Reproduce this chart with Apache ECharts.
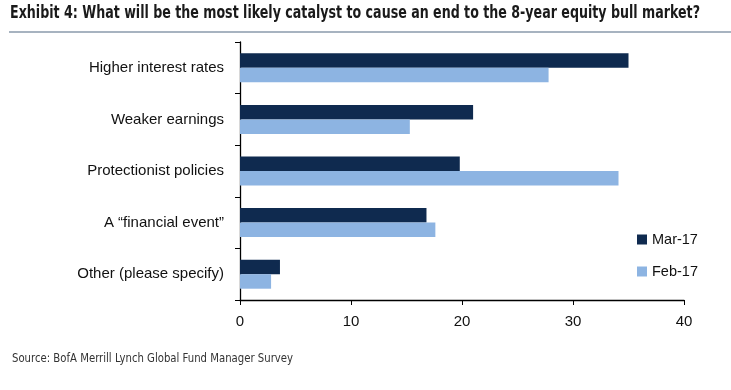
<!DOCTYPE html>
<html><head><meta charset="utf-8">
<script src="https://cdn.jsdelivr.net/npm/echarts@6/dist/echarts.min.js"></script>
<style>html,body{margin:0;padding:0;background:#fff}#c{width:731px;height:390px}</style>
</head><body><div id="c"></div>
<script>
const categories = ['Higher interest rates','Weaker earnings','Protectionist policies','A \u201cfinancial event\u201d','Other (please specify)'];
const mar17 = [35, 21.0, 19.8, 16.8, 3.6];
const feb17 = [27.8, 15.3, 34.1, 17.6, 2.8];
const xTicks = [0, 10, 20, 30, 40];
const titleText = 'Exhibit 4: What will be the most likely catalyst to cause an end to the 8-year equity bull market?';
const sourceText = 'Source: BofA Merrill Lynch Global Fund Manager Survey';

const condFont = '"DejaVu Sans Condensed", sans-serif';
function fitScale(text, weight, size, target){
  const ctx = document.createElement('canvas').getContext('2d');
  ctx.font = weight + ' ' + size + 'px ' + condFont;
  return target / ctx.measureText(text).width;
}
const titleScale = fitScale(titleText, 'bold', 18, 690);
const sourceScale = fitScale(sourceText, 'normal', 13, 281);

const chart = echarts.init(document.getElementById('c'), null, {renderer:'canvas'});
chart.setOption({
  animation:false,
  backgroundColor:'#fff',
  graphic:[
    {type:'text',x:10,y:4,scaleX:titleScale,style:{text:titleText,font:'bold 18px ' + condFont,fill:'#1a1a1a',textVerticalAlign:'top'}},
    {type:'line',shape:{x1:9,y1:32,x2:731,y2:32},style:{stroke:'#8a9aab',lineWidth:1.5}},
    {type:'text',x:12,y:352,scaleX:sourceScale,style:{text:sourceText,font:'13px ' + condFont,fill:'#333',textVerticalAlign:'top'}}
  ],
  legend:{
    orient:'vertical', left:632, top:227, itemWidth:10, itemHeight:10, itemGap:17,
    icon:'rect',
    textStyle:{fontFamily:'Liberation Sans, Arial, sans-serif',fontSize:14.5,color:'#111'},
    data:['Mar-17','Feb-17']
  },
  grid:{left:240,right:47,top:42,bottom:90,containLabel:false},
  xAxis:{
    type:'value', min:0, max:40, interval:10,
    axisLine:{show:true,lineStyle:{color:'#000',width:1.3}},
    axisTick:{show:true,length:5,lineStyle:{color:'#000'}},
    splitLine:{show:false},
    axisLabel:{margin:14,fontFamily:'Liberation Sans, Arial, sans-serif',fontSize:15,color:'#111',
      formatter:v=>xTicks.includes(v)?String(v):''}
  },
  yAxis:{
    type:'category', data:categories, inverse:true,
    axisLine:{show:true,lineStyle:{color:'#000',width:1.3}},
    axisTick:{show:true,length:5,lineStyle:{color:'#000'}},
    axisLabel:{margin:16,fontFamily:'Liberation Sans, Arial, sans-serif',fontSize:15,color:'#111'}
  },
  series:[
    {name:'Mar-17',type:'bar',data:mar17,barWidth:14.5,barGap:'0%',itemStyle:{color:'#0f2a4f'}},
    {name:'Feb-17',type:'bar',data:feb17,barWidth:14.5,barGap:'0%',itemStyle:{color:'#8db4e2'}}
  ]
});
</script></body></html>
